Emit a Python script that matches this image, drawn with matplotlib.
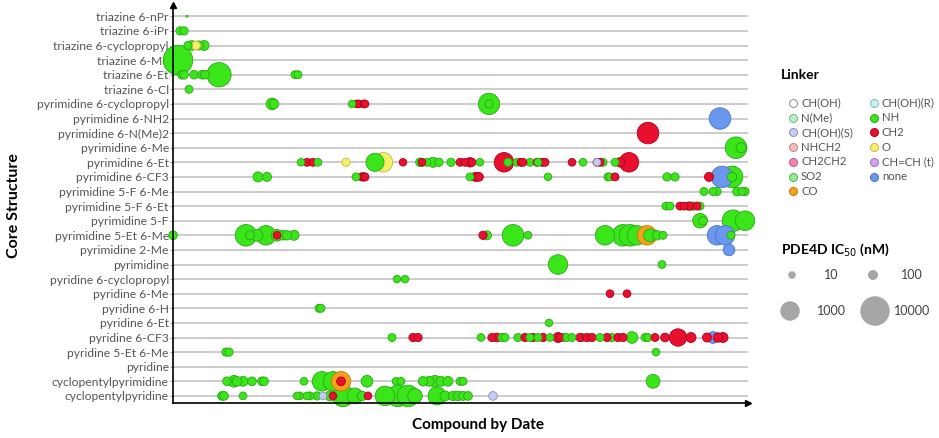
import numpy as np
import pandas as pd
import matplotlib
matplotlib.use('Agg')  # sem janela, só salva o png
import matplotlib.pyplot as plt

plt.rcParams['font.family'] = ['Lato', 'DejaVu Sans']

core_structures = [
    'triazine 6-nPr', 'triazine 6-iPr', 'triazine 6-cyclopropyl', 'triazine 6-Me',
    'triazine 6-Et', 'triazine 6-Cl', 'pyrimidine 6-cyclopropyl', 'pyrimidine 6-NH2',
    'pyrimidine 6-N(Me)2', 'pyrimidine 6-Me', 'pyrimidine 6-Et', 'pyrimidine 6-CF3',
    'pyrimidine 5-F 6-Me', 'pyrimidine 5-F 6-Et', 'pyrimidine 5-F', 'pyrimidine 5-Et 6-Me',
    'pyrimidine 2-Me', 'pyrimidine', 'pyridine 6-cyclopropyl', 'pyridine 6-Me',
    'pyridine 6-H', 'pyridine 6-Et', 'pyridine 6-CF3', 'pyridine 5-Et 6-Me', 'pyridine',
    'cyclopentylpyrimidine', 'cyclopentylpyridine',
]

# x = ordem do composto (data), core = índice em core_structures, ic50 em nM
nh_x = [14, 7, 11, 15, 19, 26, 31, 5, 9, 11, 21, 29, 32, 46, 122, 125, 16,
        99, 101, 179, 316, 316, 563, 568,
        128, 145, 202, 247, 249, 254, 260, 266, 278, 307, 335, 344, 357, 365, 410, 430, 442,
        85, 94, 183, 297, 375, 435, 437, 494, 502, 559, 559,
        531, 540, 544, 564, 569, 572, 493, 497, 515, 520, 527,
        527, 530, 560, 572,
        0, 73, 77, 84, 93, 104, 110, 114, 121, 314, 340, 355, 432, 450, 457, 464, 477, 484, 490, 558,
        385, 489, 224, 232, 146, 148, 376,
        219, 308, 329, 332, 345, 357, 365, 377, 390, 394, 399, 409, 427, 439, 459, 472, 475,
        53, 56, 483,
        54, 61, 64, 70, 79, 89, 91, 131, 149, 160, 194, 223, 228, 250, 256, 262, 268, 275, 287, 290, 480,
        49, 51, 70, 124, 127, 134, 137, 144, 157, 170, 182, 189, 212, 225, 235, 242, 264, 272, 280,
        285, 290, 295]
nh_core = [0, 1, 1, 2, 2, 2, 2, 3, 4, 4, 4, 4, 4, 4, 4, 4, 5,
           6, 6, 6, 6, 6, 9, 9,
           10, 10, 10, 10, 10, 10, 10, 10, 10, 10, 10, 10, 10, 10, 10, 10, 10,
           11, 11, 11, 11, 11, 11, 11, 11, 11, 11, 11,
           12, 12, 12, 12, 12, 12, 13, 13, 13, 13, 13,
           14, 14, 14, 14,
           15, 15, 15, 15, 15, 15, 15, 15, 15, 15, 15, 15, 15, 15, 15, 15, 15, 15, 15, 15,
           17, 17, 18, 18, 20, 20, 21,
           22, 22, 22, 22, 22, 22, 22, 22, 22, 22, 22, 22, 22, 22, 22, 22, 22,
           23, 23, 23,
           25, 25, 25, 25, 25, 25, 25, 25, 25, 25, 25, 25, 25, 25, 25, 25, 25, 25, 25, 25, 25,
           26, 26, 26, 26, 26, 26, 26, 26, 26, 26, 26, 26, 26, 26, 26, 26, 26, 26, 26,
           26, 26, 26]
nh_ic50 = [1, 20, 20, 20, 80, 30, 100, 10000, 30, 30, 30, 30, 30, 3000, 15, 15, 15,
           150, 60, 10, 1500, 20, 1600, 100,
           10, 12, 700, 30, 15, 15, 100, 20, 20, 10, 20, 15, 15, 12, 12, 15, 15,
           100, 40, 15, 15, 10, 15, 15, 20, 20, 1600, 60,
           15, 15, 20, 30, 15, 20, 15, 15, 20, 20, 15,
           300, 30, 1600, 1000,
           30, 1600, 40, 150, 1000, 150, 60, 60, 100, 40, 1600, 12, 1000, 1600, 1600, 1000, 200, 60, 15, 15,
           1000, 12, 10, 10, 15, 15, 10,
           15, 12, 20, 15, 20, 15, 15, 12, 20, 15, 15, 20, 15, 20, 150, 15, 15,
           20, 20, 12,
           30, 150, 60, 100, 30, 30, 30, 12, 1000, 1000, 150, 12, 12, 60, 80, 150, 100, 80, 15, 15, 250,
           30, 30, 12, 10, 12, 12, 15, 20, 100, 1600, 400, 60, 1000, 1600, 1600, 300, 700, 100, 60,
           60, 40, 30]

ch2_x = [184, 186, 191, 192, 475,
         134, 140, 230, 249, 287, 292, 297, 299, 331, 348, 350, 364, 369, 372, 399, 424, 427, 447, 456,
         189, 191, 192, 302, 304, 306, 442, 536,
         507, 511, 517, 524, 310, 104, 437, 454,
         240, 245, 319, 324, 352, 360, 370, 385, 387, 407, 414, 419, 434, 445, 450, 482, 492, 505,
         518, 534, 545, 550,
         168, 160, 195]
ch2_core = [6, 6, 6, 6, 8,
            10, 10, 10, 10, 10, 10, 10, 10, 10, 10, 10, 10, 10, 10, 10, 10, 10, 10, 10,
            11, 11, 11, 11, 11, 11, 11, 11,
            13, 13, 13, 13, 15, 15, 19, 19,
            22, 22, 22, 22, 22, 22, 22, 22, 22, 22, 22, 22, 22, 22, 22, 22, 22, 22,
            22, 22, 22, 22,
            25, 26, 26]
ch2_ic50 = [12, 12, 12, 12, 1600,
            15, 15, 10, 10, 15, 15, 60, 15, 1000, 15, 15, 15, 15, 15, 12, 15, 15, 60, 1000,
            20, 20, 15, 30, 30, 30, 15, 40,
            15, 15, 20, 15, 20, 12, 12, 12,
            20, 20, 20, 30, 20, 20, 20, 100, 20, 20, 20, 20, 20, 20, 20, 15, 30, 600,
            100, 40, 60, 100,
            30, 12, 12]

o_x = [23, 173, 210]
o_core = [2, 10, 10]
o_ic50 = [30, 20, 1000]

co_x = [25, 474, 168]
co_core = [2, 15, 25]
co_ic50 = [40, 1000, 1000]

none_x = [547, 549, 544, 552, 556, 540]
none_core = [7, 11, 15, 15, 16, 22]
none_ic50 = [1600, 1600, 1000, 1000, 150, 150]

chohs_x = [320, 424, 150]
chohs_core = [26, 10, 26]
chohs_ic50 = [30, 10, 10]

linker_labels = ['CH(OH)', 'N(Me)', 'CH(OH)(S)', 'NHCH2', 'CH2CH2', 'SO2', 'CO',
                 'CH(OH)(R)', 'NH', 'CH2', 'O', 'CH=CH (t)', 'none']
size_legend_ic50 = [10, 100, 1000, 10000]

# cores (face, borda) por linker
CORES = {
    'CH(OH)': ('#ffffff', '#8c8c8c'), 'N(Me)': ('#b4f0c4', '#78b48a'),
    'CH(OH)(S)': ('#c6cbf2', '#8a90c0'), 'NHCH2': ('#f6bcbc', '#c08888'),
    'CH2CH2': ('#f284b4', '#c05888'), 'SO2': ('#92ea92', '#5cb45c'),
    'CO': ('#f5a01e', '#c87800'), 'CH(OH)(R)': ('#c8f2f2', '#88b8b8'),
    'NH': ('#3ae61a', '#2aa815'), 'CH2': ('#e8102e', '#b0001c'),
    'O': ('#f5ef6a', '#c8b840'), 'CH=CH (t)': ('#d8a2ea', '#a070b8'),
    'none': ('#6b97ee', '#4a74c8'),
}
DPI = 100


def diametro_px(ic50):
    return np.interp(np.log10(ic50), [0, 1, 2, 3, 4], [2, 7.5, 10, 19.5, 29.5])


def area_pt(ic50):
    return (diametro_px(np.asarray(ic50, dtype=float)) * 72 / DPI) ** 2


grupos = [('NH', nh_x, nh_core, nh_ic50), ('CH2', ch2_x, ch2_core, ch2_ic50),
          ('O', o_x, o_core, o_ic50), ('CO', co_x, co_core, co_ic50),
          ('none', none_x, none_core, none_ic50), ('CH(OH)(S)', chohs_x, chohs_core, chohs_ic50)]
df = pd.concat([pd.DataFrame({'x': x, 'core': c, 'ic50': v, 'linker': nome})
                for nome, x, c, v in grupos], ignore_index=True)
df = df.sort_values('ic50', ascending=False, kind='stable')

fig = plt.figure(figsize=(939 / DPI, 438 / DPI), dpi=DPI)
ax = fig.add_axes([173 / 939, 1 - 403 / 438, 575 / 939, 398 / 438])

for i in range(len(core_structures)):
    ax.axhline(i, color='#c8c8c8', lw=1.3, zorder=0)

ax.scatter(df['x'], df['core'], s=area_pt(df['ic50']),
           c=[CORES[l][0] for l in df['linker']],
           edgecolors=[CORES[l][1] for l in df['linker']],
           linewidths=0.6, zorder=2, clip_on=False)

ax.set_xlim(0, 575)
ax.set_ylim((403 - 16.3) / 14.6, (5 - 16.3) / 14.6)
ax.set_yticks(range(len(core_structures)))
ax.set_yticklabels(core_structures, fontsize=8.7, color='#555555')
ax.set_xticks([])
ax.tick_params(axis='y', length=2, width=0.6, color='#888888', pad=1)
for lado in ['top', 'right']:
    ax.spines[lado].set_visible(False)
for lado in ['left', 'bottom']:
    ax.spines[lado].set_color('black')
    ax.spines[lado].set_linewidth(1.2)
# setas nas pontas dos eixos
ax.plot(1, 0, '>', color='black', ms=5, transform=ax.transAxes, clip_on=False)
ax.plot(0, 1, '^', color='black', ms=5, transform=ax.transAxes, clip_on=False)

fig.text(14 / 939, 1 - 206 / 438, 'Core Structure', rotation=90, ha='center', va='center',
         fontsize=11.5, fontweight='bold')
fig.text(478 / 939, 1 - 425 / 438, 'Compound by Date', ha='center', va='center',
         fontsize=11, fontweight='bold')

# legendas desenhadas num eixo por cima, em pixels
lax = fig.add_axes([0, 0, 1, 1])
lax.set_xlim(0, 939)
lax.set_ylim(438, 0)
lax.axis('off')

lax.text(781, 75, 'Linker', fontsize=10, fontweight='bold', va='center')
for k, nome in enumerate(linker_labels):
    col, lin = (0, k) if k < 7 else (1, k - 7)
    mx = 793 if col == 0 else 874
    my = 103 + lin * 14.7
    face, borda = CORES[nome]
    lax.scatter(mx, my, s=(8 * 0.72) ** 2, c=face, edgecolors=borda, linewidths=0.7)
    lax.text(mx + 8, my, nome, fontsize=8.2, color='#555555', va='center')

lax.text(781, 250, 'PDE4D IC$_{50}$ (nM)', fontsize=10, fontweight='bold', va='center')
for k, v in enumerate(size_legend_ic50):
    col, lin = k % 2, k // 2
    mx = (792 if lin == 0 else 790) if col == 0 else (873 if lin == 0 else 875)
    my = 275 + lin * 36
    lax.scatter(mx, my, s=area_pt(v), c='#a6a6a6', edgecolors='none')
    lax.text(831 if col == 0 else 912, my, str(v), fontsize=9, color='#404040',
             ha='center', va='center')

fig.savefig('out.png', dpi=DPI)
